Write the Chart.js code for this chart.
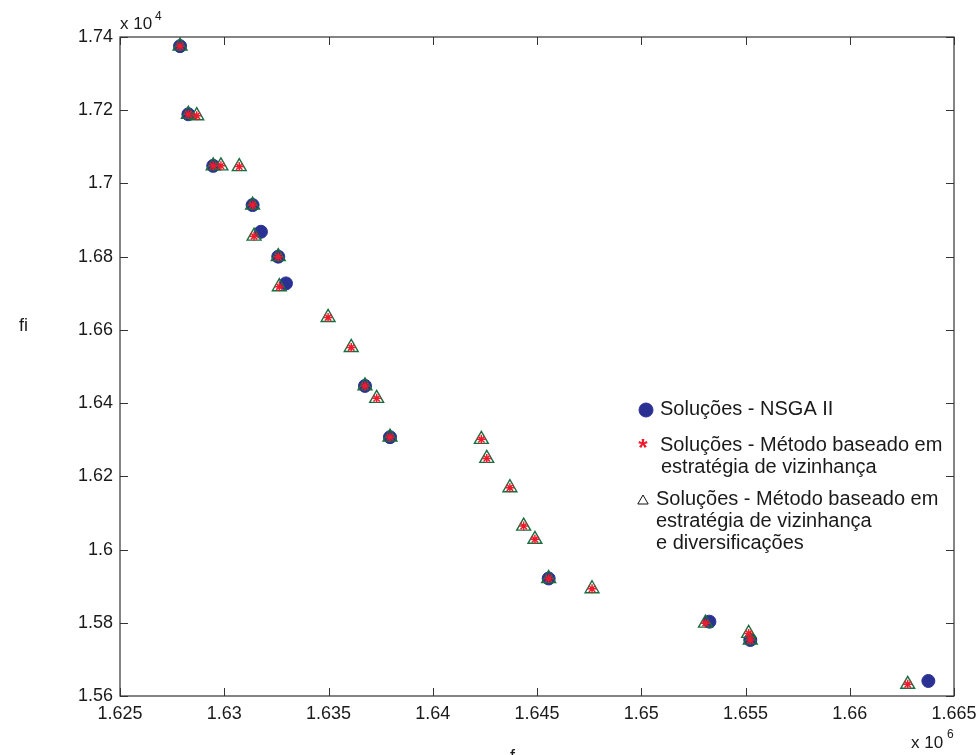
<!DOCTYPE html>
<html>
<head>
<meta charset="utf-8">
<script src="https://cdn.jsdelivr.net/npm/chart.js@4.4.0/dist/chart.umd.min.js"></script>
<style>
    html, body { margin: 0; padding: 0; background: #fff; }
    #wrap { position: relative; width: 979px; height: 755px; }
</style>
</head>
<body>
<div id="wrap"><canvas id="pareto" width="979" height="755"></canvas></div>
<script>
// x values in units of 10^6, y values in units of 10^4
const nsgaX = [1.62788, 1.62828, 1.62947, 1.63136, 1.63176, 1.63259, 1.63296, 1.63675, 1.63795, 1.64556, 1.65327, 1.65523, 1.66377]
const nsgaY = [1.7375, 1.7189, 1.7048, 1.6941, 1.6868, 1.6800, 1.6727, 1.6447, 1.6307, 1.5921, 1.5803, 1.5753, 1.5641]

const vizX = [1.62788, 1.62828, 1.62868, 1.62947, 1.62984, 1.63072, 1.63136, 1.63143, 1.63259, 1.63264, 1.63498, 1.63609, 1.63675,
    1.63731, 1.63795, 1.64233, 1.64259, 1.64370, 1.64436, 1.64490, 1.64556, 1.64764, 1.65308, 1.65515, 1.65523, 1.66278]
const vizY = [1.7375, 1.7189, 1.7185, 1.7048, 1.7048, 1.7046, 1.6941, 1.6856, 1.6800, 1.6718, 1.6634, 1.6552, 1.6447,
    1.6413, 1.6307, 1.6301, 1.6249, 1.6169, 1.6064, 1.6028, 1.5921, 1.5893, 1.5799, 1.5771, 1.5753, 1.5632]

const divX = [1.62788, 1.62828, 1.62868, 1.62947, 1.62984, 1.63072, 1.63136, 1.63143, 1.63259, 1.63264, 1.63498, 1.63609, 1.63675,
    1.63731, 1.63795, 1.64233, 1.64259, 1.64370, 1.64436, 1.64490, 1.64556, 1.64764, 1.65308, 1.65515, 1.65523, 1.66278]
const divY = [1.7375, 1.7189, 1.7185, 1.7048, 1.7048, 1.7046, 1.6941, 1.6856, 1.6800, 1.6718, 1.6634, 1.6552, 1.6447,
    1.6413, 1.6307, 1.6301, 1.6249, 1.6169, 1.6064, 1.6028, 1.5921, 1.5893, 1.5799, 1.5771, 1.5753, 1.5632]

const xTicks = [1.625, 1.63, 1.635, 1.64, 1.645, 1.65, 1.655, 1.66, 1.665]
const yTicks = [1.56, 1.58, 1.6, 1.62, 1.64, 1.66, 1.68, 1.7, 1.72, 1.74]

const legendItems = [
    { style: "circle", lines: ["Soluções - NSGA II"] },
    { style: "star", lines: ["Soluções - Método baseado em", "estratégia de vizinhança"] },
    { style: "triangle", lines: ["Soluções - Método baseado em", "estratégia de vizinhança", "e diversificações"] }
]

const FONT = "'Liberation Sans', Arial, sans-serif"
const BLUE = "#2b3192"
const RED = "#ec1c2d"
const GREEN = "#1b6d3e"
const INK = "#1a1a1a"

const toPoints = (xs, ys) => xs.map((x, i) => ({ x: x, y: ys[i] }))

// box with inward ticks, MATLAB style
const boxPlugin = {
    id: "box",
    afterDatasetsDraw(chart) {
        const ctx = chart.ctx
        const a = chart.chartArea
        const sx = chart.scales.x
        const sy = chart.scales.y
        const len = 8
        ctx.save()
        ctx.strokeStyle = "#333"
        ctx.lineWidth = 1.2
        ctx.strokeRect(a.left, a.top, a.right - a.left, a.bottom - a.top)
        ctx.lineWidth = 1
        ctx.beginPath()
        sx.ticks.forEach(t => {
            const px = Math.round(sx.getPixelForValue(t.value)) + 0.5
            ctx.moveTo(px, a.bottom); ctx.lineTo(px, a.bottom - len)
            ctx.moveTo(px, a.top); ctx.lineTo(px, a.top + len)
        })
        sy.ticks.forEach(t => {
            const py = Math.round(sy.getPixelForValue(t.value)) + 0.5
            ctx.moveTo(a.left, py); ctx.lineTo(a.left + len, py)
            ctx.moveTo(a.right, py); ctx.lineTo(a.right - len, py)
        })
        ctx.stroke()
        ctx.restore()
    }
}

const textPlugin = {
    id: "texts",
    afterDraw(chart) {
        const ctx = chart.ctx
        ctx.save()
        ctx.fillStyle = INK
        ctx.textAlign = "left"
        ctx.textBaseline = "alphabetic"

        // exponent labels
        ctx.font = "17px " + FONT
        ctx.fillText("x 10", 120, 29)
        ctx.fillText("x 10", 911, 748)
        ctx.font = "12px " + FONT
        ctx.fillText("4", 155, 20)
        ctx.fillText("6", 947, 738)

        // axis labels
        ctx.font = "18px " + FONT
        ctx.textBaseline = "middle"
        ctx.fillText("fi", 19, 326)
        ctx.textBaseline = "top"
        ctx.fillText("f", 510, 748)

        // legend
        const marks = [
            { x: 646, y: 410, r: 7, color: BLUE, fill: BLUE, width: 1 },
            { x: 643, y: 445, r: 5, color: RED, fill: RED, width: 2 },
            { x: 643, y: 501, r: 6, color: "#111", fill: "rgba(0,0,0,0)", width: 1 }
        ]
        const textX = [660, 660, 656]
        const firstLine = [409, 445, 499]
        const legendFont = "20px " + FONT
        ctx.font = legendFont
        ctx.textBaseline = "middle"
        legendItems.forEach((item, i) => {
            const m = marks[i]
            if (item.style === "star") {
                ctx.fillStyle = RED
                ctx.font = "bold 24px " + FONT
                ctx.textAlign = "center"
                ctx.fillText("*", m.x, m.y + 4)
                ctx.textAlign = "left"
                ctx.font = legendFont
            } else {
                ctx.strokeStyle = m.color
                ctx.fillStyle = m.fill
                ctx.lineWidth = m.width
                Chart.helpers.drawPoint(ctx, { pointStyle: item.style, radius: m.r, rotation: 0, borderWidth: m.width }, m.x, m.y)
            }
            ctx.fillStyle = INK
            item.lines.forEach((line, j) => {
                ctx.fillText(line, textX[i] + (i === 1 && j > 0 ? 1 : 0), firstLine[i] + j * 22.3)
            })
        })
        ctx.restore()
    }
}

const tickFont = { family: FONT, size: 18 }

new Chart("pareto", {
    type: "scatter",
    data: {
        datasets: [
            {
                label: "Soluções - NSGA II",
                data: toPoints(nsgaX, nsgaY),
                pointStyle: "circle",
                pointRadius: 6.5,
                backgroundColor: BLUE,
                borderColor: BLUE,
                borderWidth: 1,
                order: 3
            },
            {
                label: "Soluções - Método baseado em estratégia de vizinhança e diversificações",
                data: toPoints(divX, divY),
                pointStyle: "triangle",
                pointRadius: 8,
                backgroundColor: "rgba(255,255,255,0)",
                borderColor: GREEN,
                borderWidth: 1.4,
                order: 2
            },
            {
                label: "Soluções - Método baseado em estratégia de vizinhança",
                data: toPoints(vizX, vizY),
                pointStyle: "star",
                pointRadius: 4.5,
                backgroundColor: RED,
                borderColor: RED,
                borderWidth: 1.5,
                order: 1
            }
        ]
    },
    options: {
        responsive: false,
        animation: false,
        events: [],
        layout: { padding: { top: 37, right: 25, left: 0, bottom: 0 } },
        plugins: {
            legend: { display: false },
            tooltip: { enabled: false }
        },
        scales: {
            x: {
                type: "linear",
                min: 1.625,
                max: 1.665,
                afterBuildTicks: s => { s.ticks = xTicks.map(v => ({ value: v })) },
                afterFit: s => { s.height = 59; s.paddingLeft = 0; s.paddingRight = 0 },
                grid: { display: false, drawTicks: false },
                border: { display: false },
                ticks: { padding: 7, color: INK, font: tickFont, maxRotation: 0, autoSkip: false, callback: v => String(v) }
            },
            y: {
                type: "linear",
                min: 1.56,
                max: 1.74,
                afterBuildTicks: s => { s.ticks = yTicks.map(v => ({ value: v })) },
                afterFit: s => { s.width = 120; s.paddingTop = 0; s.paddingBottom = 0 },
                grid: { display: false, drawTicks: false },
                border: { display: false },
                ticks: { padding: 7, color: INK, font: tickFont, autoSkip: false, callback: v => String(v) }
            }
        }
    },
    plugins: [boxPlugin, textPlugin]
})
</script>
</body>
</html>
